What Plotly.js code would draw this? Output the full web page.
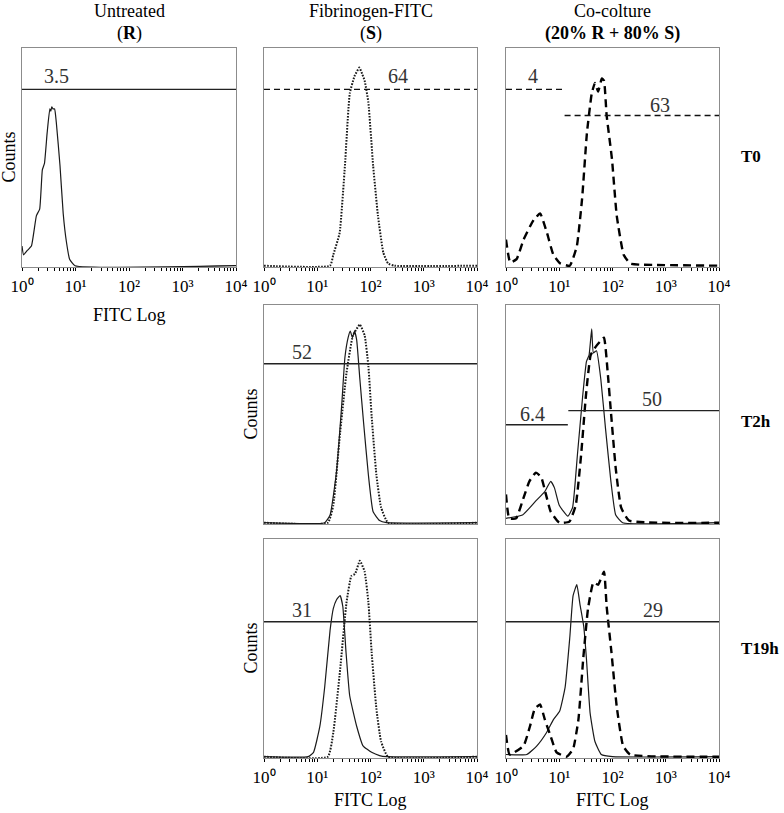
<!DOCTYPE html>
<html><head><meta charset="utf-8">
<script src="https://cdn.plot.ly/plotly-3.0.1.min.js"></script>
<style>html,body{margin:0;padding:0;background:#fff}#chart{width:784px;height:813px}</style>
</head><body><div id="chart"></div>
<script>
// ---------------- DATA ----------------
const columnTitles = ['Untreated', 'Fibrinogen-FITC', 'Co-colture'];
const columnSubtitles = ['(<b>R</b>)', '(<b>S</b>)', '<b>(20% R + 80% S)</b>'];
const rowLabels = ['T0', 'T2h', 'T19h'];
const decadeVals = [1, 10, 100, 1000, 10000];
const decadeLabels = ['10\u2070', '10\u00B9', '10\u00B2', '10\u00B3', '10\u2074'];

// Untreated (R), T0 – solid
const R_T0_x = [1, 1.07, 1.26, 1.5, 1.86, 2.14, 2.4, 2.63, 2.95, 3.31, 3.45, 3.6, 3.8, 4.07, 4.37, 5.13, 5.89, 6.76, 7.76, 9.8, 10000];
const R_T0_y = [9, 5, 7, 9, 23, 26, 44, 47, 61, 72, 71, 73, 72, 72, 66, 46, 24, 11, 3, 0, 0];

// Fibrinogen-FITC (S), T0 reference – dotted
const S_T0_x = [1, 17.4, 20, 26.3, 33.1, 40.7, 50, 61.7, 70, 77.6, 91.2, 112, 138, 174, 214, 282, 10000];
const S_T0_y = [0, 0, 5, 15, 46, 79, 87, 91, 88, 85, 75, 46, 23, 6, 1, 0, 0];

// Co-colture T0 – dashed
const CO_T0_x = [1, 1.2, 1.58, 2.14, 2.82, 3.31, 4.37, 5.89, 7.76, 10.5, 15.8, 21.4, 26.9, 33.1, 40.7, 46.8, 53.7, 63.1, 69.2, 77.6, 97.7, 120, 162, 214, 316, 10000];
const CO_T0_y = [12, 1.5, 3, 12, 18, 21, 24, 15, 5, 1, 0, 9, 31, 61, 79, 84, 80, 86, 85, 69, 49, 23, 5, 1, 0.5, 0];

// Fibrinogen-FITC T2h – solid
const S_T2h_x = [1, 13.8, 17.4, 22.9, 28.8, 33.1, 38, 41.7, 45.7, 50.1, 55, 63.1, 74.1, 91.2, 112, 148, 200, 10000];
const S_T2h_y = [0, 0, 3.5, 23, 54, 76, 85, 88, 85, 88, 84, 66, 46, 22, 5, 1, 0, 0];
// Fibrinogen-FITC T2h reference – dotted
const S_T2h_ref_x = [1, 15.8, 20, 26.3, 35.5, 46.8, 63.1, 77.6, 91.2, 105, 129, 158, 214, 10000];
const S_T2h_ref_y = [0, 0, 8, 39, 69, 86, 91, 86, 72, 49, 22, 7, 0, 0];

// Co-colture T2h reference – dashed
const CO_T2h_ref_x = [1, 1.15, 1.55, 2.04, 2.75, 3.63, 4.57, 5.62, 6.92, 10, 15.5, 20.4, 25.7, 31.6, 38.9, 49, 57.5, 69.2, 81.3, 93.3, 115, 145, 204, 10000];
const CO_T2h_ref_y = [13, 2, 2, 10, 19, 23, 21, 13, 5, 0, 0.5, 8, 31, 58, 77, 81, 83, 85, 69, 51, 25, 7, 1, 0];
// Co-colture T2h – solid
const CO_T2h_x = [1, 2.04, 3.63, 5.25, 6.92, 8.13, 10, 14.5, 17.8, 21.9, 27.5, 32.4, 36.3, 40.7, 43.7, 50.1, 60.3, 74.1, 93.3, 115, 155, 10000];
const CO_T2h_y = [2, 3.5, 10, 14, 19, 16, 8, 3, 7, 31, 58, 74, 77, 89, 78, 79, 66, 43, 19, 3.5, 0, 0];

// Fibrinogen-FITC T19h – solid
const S_T19h_x = [1, 6.76, 8.51, 11.2, 13.8, 17.4, 20, 22.9, 26.9, 30.2, 34.7, 40.7, 55, 72.4, 105, 148, 200, 10000];
const S_T19h_y = [0, 0, 2, 14, 32, 58, 68, 72, 74, 69, 48, 28, 14, 5, 2, 0.5, 0, 0];
// Fibrinogen-FITC T19h reference – dotted
const S_T19h_ref_x = [1, 15.8, 20, 26.9, 35.5, 43.7, 51.3, 63.1, 77.6, 91.2, 105, 129, 158, 214, 10000];
const S_T19h_ref_y = [0, 0, 11, 40, 71, 83, 84, 90, 85, 71, 48, 22, 7, 0, 0];

// Co-colture T19h reference – dashed
const CO_T19h_ref_x = [1, 1.17, 2.14, 2.82, 3.47, 4.37, 5.37, 6.76, 8.91, 13.8, 18.2, 22.9, 28.2, 34.7, 43.7, 53.7, 69.2, 77.6, 95.5, 120, 158, 214, 10000];
const CO_T19h_ref_y = [10, 1, 5, 14, 22, 24, 17, 10, 2, 0, 3.5, 17, 45, 68, 80, 79, 85, 69, 48, 23, 5, 1, 0];
// Co-colture T19h – solid
const CO_T19h_x = [1, 2.45, 3.8, 5.75, 7.76, 10.2, 12.9, 15.8, 18.2, 21.4, 24.5, 28.8, 32.4, 38, 46.8, 61.7, 100, 10000];
const CO_T19h_y = [1, 1, 5, 11, 17, 21, 32, 55, 74, 79, 70, 60, 45, 20, 7, 1, 0, 0];

// Gates: low, high, level, percent
const gateLow   = [1,     1,     1,   12.6,  1,     1,    14.8,  1,     1];
const gateHigh  = [10000, 10000, 12,  10000, 10000, 14.5, 10000, 10000, 10000];
const gateLevel = [81,    81,    81,  69,    73,    45,   51.5,  62,    62];
const gatePct   = ['3.5', '64', '4', '63', '52', '6.4', '50', '31', '29'];

// ---------------- LAYOUT HELPERS ----------------
const W = 784, H = 813;
const colPx = [[22, 236], [264, 477], [506, 719]];
const rowPx = [[48, 267], [305, 524], [539, 758]];
const px2x = p => p / W;
const px2y = p => 1 - p / H;

const SOLID = {color: '#1a1a1a', width: 1.2, dash: 'solid'};
const DOT = {color: '#1a1a1a', width: 2, dash: '1.6px,1.4px'};
const DASH = {color: '#000', width: 2.4, dash: '8px,5px'};

const panels = [
  {col: 0, row: 0, curves: [[R_T0_x, R_T0_y, SOLID]], gates: [[0, 'solid', 4.4, 87]], labels: true, counts: true, fitc: 48},
  {col: 1, row: 0, curves: [[S_T0_x, S_T0_y, DOT]], gates: [[1, 'dash', 325, 87]], labels: true},
  {col: 2, row: 0, curves: [[CO_T0_x, CO_T0_y, DASH]], gates: [[2, 'dash', 3.2, 87], [3, 'dash', 776, 74]], labels: true},
  {col: 1, row: 1, curves: [[S_T2h_x, S_T2h_y, SOLID], [S_T2h_ref_x, S_T2h_ref_y, DOT]], gates: [[4, 'solid', 5.2, 78.5]], labels: false, counts: true},
  {col: 2, row: 1, curves: [[CO_T2h_x, CO_T2h_y, SOLID], [CO_T2h_ref_x, CO_T2h_ref_y, DASH]], gates: [[5, 'solid', 3.2, 50], [6, 'solid', 550, 57]], labels: false},
  {col: 1, row: 2, curves: [[S_T19h_x, S_T19h_y, SOLID], [S_T19h_ref_x, S_T19h_ref_y, DOT]], gates: [[7, 'solid', 5.2, 67.5]], labels: true, counts: true, fitc: 42},
  {col: 2, row: 2, curves: [[CO_T19h_x, CO_T19h_y, SOLID], [CO_T19h_ref_x, CO_T19h_ref_y, DASH]], gates: [[8, 'solid', 570, 67.5]], labels: true, fitc: 42}
];

const FONT = 'Liberation Serif, Times New Roman, serif';
const traces = [];
const layout = {
  width: W, height: H,
  margin: {l: 0, r: 0, t: 0, b: 0},
  paper_bgcolor: '#fff', plot_bgcolor: '#fff',
  showlegend: false,
  font: {family: FONT, size: 16, color: '#000'},
  annotations: []
};

panels.forEach((p, i) => {
  const n = i + 1;
  const xk = n === 1 ? 'xaxis' : 'xaxis' + n;
  const yk = n === 1 ? 'yaxis' : 'yaxis' + n;
  const xr = n === 1 ? 'x' : 'x' + n;
  const yr = n === 1 ? 'y' : 'y' + n;
  const cp = colPx[p.col], rp = rowPx[p.row];
  layout[xk] = {
    type: 'log', range: [0, 4], domain: [px2x(cp[0]), px2x(cp[1])], anchor: yr,
    showgrid: false, zeroline: false, showline: true, mirror: true,
    linecolor: '#8c8c8c', linewidth: 1.3,
    tickmode: 'array', tickvals: decadeVals, ticktext: decadeLabels,
    ticks: p.labels ? 'outside' : '', ticklen: 3, tickwidth: 1, tickcolor: '#000',
    minor: p.labels ? {ticks: 'outside', ticklen: 3, tickwidth: 1, tickcolor: '#000', dtick: 'D1', showgrid: false} : {ticks: ''},
    tickfont: {family: FONT, size: 17, color: '#000'},
    showticklabels: p.labels, fixedrange: true
  };
  layout[yk] = {
    range: [-0.6, 100], domain: [px2y(rp[1]), px2y(rp[0])], anchor: xr,
    showgrid: false, zeroline: false, showline: true, mirror: true,
    linecolor: '#8c8c8c', linewidth: 1.3,
    ticks: '', showticklabels: false, fixedrange: true
  };
  p.curves.forEach(c => {
    traces.push({type: 'scatter', mode: 'lines', x: c[0], y: c[1], xaxis: xr, yaxis: yr,
      line: {color: c[2].color, width: c[2].width, dash: c[2].dash, shape: 'spline', smoothing: 0.4},
      hoverinfo: 'skip'});
  });
  p.gates.forEach(g => {
    const gi = g[0];
    traces.push({type: 'scatter', mode: 'lines',
      x: [gateLow[gi], gateHigh[gi]], y: [gateLevel[gi], gateLevel[gi]], xaxis: xr, yaxis: yr,
      line: g[1] === 'dash' ? {color: '#111', width: 1.3, dash: '6px,4px'} : {color: '#222', width: 1.4},
      hoverinfo: 'skip'});
    layout.annotations.push({xref: xr, yref: yr, x: Math.log10(g[2]), y: g[3],
      text: gatePct[gi], showarrow: false, xanchor: 'center', yanchor: 'middle',
      font: {family: FONT, size: 20, color: '#333'}});
  });
  if (p.counts) {
    layout.annotations.push({xref: 'paper', yref: 'paper', x: px2x(cp[0] - 14), y: px2y((rp[0] + rp[1]) / 2),
      text: 'Counts', textangle: -90, showarrow: false, xanchor: 'center', yanchor: 'middle',
      font: {family: FONT, size: 18, color: '#000'}});
  }
  if (p.fitc) {
    layout.annotations.push({xref: 'paper', yref: 'paper', x: px2x((cp[0] + cp[1]) / 2), y: px2y(rp[1] + p.fitc),
      text: 'FITC Log', showarrow: false, xanchor: 'center', yanchor: 'middle',
      font: {family: FONT, size: 18, color: '#000'}});
  }
});

// column headers
columnTitles.forEach((t, c) => {
  const cx = px2x((colPx[c][0] + colPx[c][1]) / 2);
  layout.annotations.push({xref: 'paper', yref: 'paper', x: cx, y: px2y(11), text: t, showarrow: false,
    xanchor: 'center', yanchor: 'middle', font: {family: FONT, size: 18, color: '#000'}});
  layout.annotations.push({xref: 'paper', yref: 'paper', x: cx, y: px2y(33), text: columnSubtitles[c], showarrow: false,
    xanchor: 'center', yanchor: 'middle', font: {family: FONT, size: 18, color: '#000'}});
});
// row labels
const rowLabelY = [156, 422, 648];
rowLabels.forEach((t, r) => {
  layout.annotations.push({xref: 'paper', yref: 'paper', x: px2x(739), y: px2y(rowLabelY[r]), text: '<b>' + t + '</b>',
    showarrow: false, xanchor: 'left', yanchor: 'middle', font: {family: FONT, size: 17, color: '#000'}});
});

Plotly.newPlot('chart', traces, layout, {displayModeBar: false, staticPlot: true});
</script>
</body></html>
